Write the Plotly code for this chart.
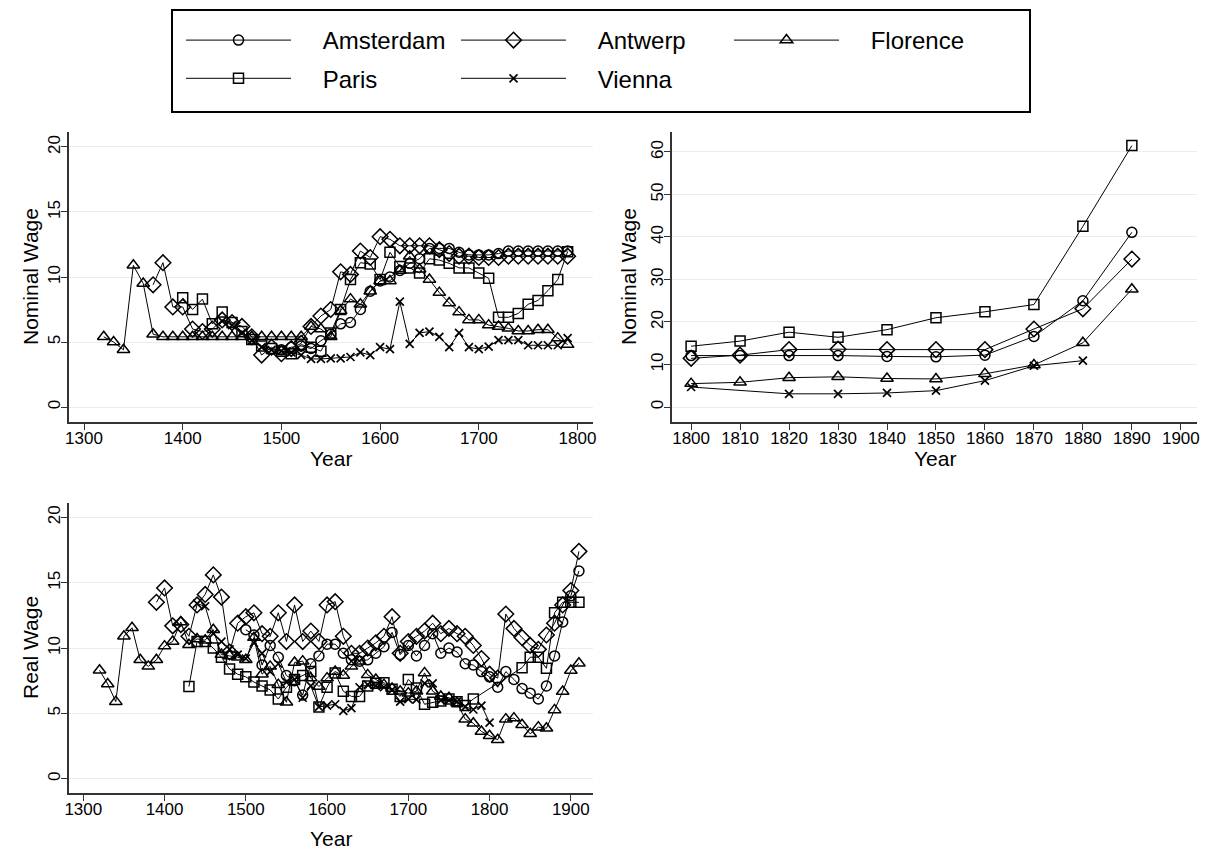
import plotly.graph_objects as go

# ---------------- data ----------------
cities = ["Amsterdam", "Antwerp", "Florence", "Paris", "Vienna"]

# Nominal wage, 1300-1800 panel
nom_early_years = {
    "Amsterdam": list(range(1500, 1800, 10)),
    "Antwerp": list(range(1370, 1800, 10)),
    "Florence": list(range(1320, 1800, 10)),
    "Paris": list(range(1400, 1800, 10)),
    "Vienna": list(range(1440, 1800, 10)),
}
nom_early_amsterdam = [4.4, 4.6, 4.7, 4.5, 5.1, 5.6, 6.4, 6.5, 7.5, 8.9, 9.7, 10.0, 10.5, 11.05, 11.4,
                       12.2, 12.2, 12.2, 11.9, 11.7, 11.7, 11.7, 11.8, 12.0, 12.0, 12.0, 12.0, 12.0, 12.0, 12.0]
nom_early_antwerp = [9.4, 11.1, 7.7, 7.7, 6.0, 5.8, 6.0, 6.7, 6.5, 6.2, 5.4, 4.0, 4.6, 4.1, 4.5, 4.9, 6.2, 7.0,
                     7.5, 10.4, 10.2, 12.0, 11.5, 13.1, 12.9, 12.4, 12.4, 12.4, 12.4, 12.1, 11.8, 11.6, 11.6,
                     11.5, 11.5, 11.5, 11.6, 11.6, 11.6, 11.6, 11.6, 11.6, 11.6]
nom_early_florence = [5.4, 5.0, 4.4, 10.9, 9.5, 5.6, 5.4, 5.4, 5.4, 5.4, 5.4, 5.4, 5.4, 5.4, 5.4, 5.4, 5.4, 5.4,
                      5.4, 5.4, 5.4, 6.2, 6.0, 5.4, 7.4, 8.3, 7.9, 8.9, 9.7, 9.7, 10.5, 11.6, 10.6, 9.8, 8.8,
                      8.0, 7.3, 6.7, 6.7, 6.3, 6.2, 6.05, 5.85, 5.85, 5.95, 5.95, 5.3, 4.8]
nom_early_paris = [8.4, 7.5, 8.3, 6.4, 7.3, 6.5, 5.8, 5.2, 4.7, 4.5, 4.3, 4.1, 4.8, 4.6, 4.3, 5.7, 7.5, 9.8, 11.1,
                   11.0, 9.8, 11.9, 10.8, 10.7, 10.3, 11.4, 11.3, 11.05, 10.7, 10.7, 10.3, 9.9, 6.9, 6.9, 7.2,
                   7.9, 8.2, 8.95, 9.8, 11.95]
nom_early_vienna = [6.6, 6.3, 5.7, 5.1, 4.6, 4.4, 4.3, 4.2, 4.0, 3.7, 3.7, 3.75, 3.75, 3.85, 4.2, 4.0, 4.6, 4.45,
                    8.1, 4.85, 5.7, 5.8, 5.4, 4.6, 5.7, 4.6, 4.45, 4.65, 5.15, 5.15, 5.15, 4.75, 4.75, 4.75,
                    4.75, 5.3]

# Nominal wage, 1800-1900 panel
nom_late_years = {
    "Amsterdam": list(range(1800, 1900, 10)),
    "Antwerp": list(range(1800, 1900, 10)),
    "Florence": list(range(1800, 1900, 10)),
    "Paris": list(range(1800, 1900, 10)),
    "Vienna": [1800, 1820, 1830, 1840, 1850, 1860, 1870, 1880],
}
nom_late_amsterdam = [12.1, 12.1, 12.1, 12.1, 11.9, 11.8, 12.2, 16.6, 25.0, 41.1]
nom_late_antwerp = [11.45, 12.2, 13.5, 13.6, 13.5, 13.5, 13.5, 18.35, 23.1, 34.8]
nom_late_florence = [5.5, 5.8, 6.9, 7.1, 6.7, 6.6, 7.8, 9.9, 15.1, 27.7]
nom_late_paris = [14.3, 15.5, 17.6, 16.4, 18.2, 21.0, 22.4, 24.1, 42.5, 61.5]
nom_late_vienna = [4.7, 3.1, 3.1, 3.3, 3.85, 6.2, 9.7, 10.9]

# Real wage, 1300-1910 panel
real_years = {
    "Amsterdam": list(range(1500, 1920, 10)),
    "Antwerp": list(range(1390, 1920, 10)),
    "Florence": list(range(1320, 1920, 10)),
    "Paris": list(range(1430, 1790, 10)) + [1840, 1850, 1860, 1870, 1880, 1890, 1900, 1910],
    "Vienna": list(range(1440, 1810, 10)),
}
real_amsterdam = [11.4, 11.0, 8.7, 10.2, 9.3, 7.9, 7.5, 6.4, 8.8, 9.4, 10.3, 10.3, 9.6, 9.1, 9.0, 9.1, 9.6, 10.1,
                  11.2, 9.5, 10.2, 9.4, 10.2, 11.1, 9.6, 10.0, 9.7, 8.8, 8.7, 8.2, 7.8, 7.0, 8.2, 7.6, 6.9,
                  6.55, 6.1, 7.1, 9.4, 12.0, 14.0, 15.9]
real_antwerp = [13.5, 14.6, 11.7, 11.8, 10.9, 13.3, 14.1, 15.6, 13.9, 9.7, 11.9, 12.4, 12.7, 11.1, 10.9, 12.7,
                10.5, 13.3, 10.5, 11.3, 10.5, 13.3, 13.55, 10.9, 9.6, 9.6, 10.0, 10.4, 10.9, 12.4, 9.6, 10.5,
                10.9, 11.3, 11.9, 11.1, 11.5, 11.1, 10.9, 10.2, 9.2, 8.0, 7.7, 12.6, 11.5, 10.8, 10.2, 9.9,
                11.0, 11.9, 13.3, 14.4, 17.4]
real_florence = [8.3, 7.25, 5.9, 10.9, 11.55, 9.1, 8.6, 9.1, 10.15, 10.5, 12.0, 10.25, 10.7, 10.6, 11.4, 9.5,
                 9.4, 9.3, 9.1, 10.8, 8.0, 8.6, 7.2, 5.85, 8.9, 9.0, 7.7, 7.05, 7.7, 8.2, 7.9, 8.6, 9.0, 7.95,
                 7.6, 7.2, 6.9, 6.7, 6.55, 6.7, 8.1, 6.7, 6.3, 6.2, 5.8, 4.56, 4.25, 3.62, 3.29, 2.98, 4.56,
                 4.64, 4.13, 3.44, 3.95, 3.87, 5.27, 6.68, 8.28, 8.84]
real_paris = [7.05, 10.5, 10.5, 10.0, 9.3, 8.4, 8.0, 7.8, 7.4, 7.1, 6.8, 6.1, 7.0, 7.6, 7.9, 8.2, 5.5, 7.0, 8.1,
              6.7, 6.3, 6.3, 7.1, 7.3, 7.35, 6.85, 6.3, 7.6, 6.95, 5.7, 5.85, 5.95, 6.1, 5.9, 5.6, 6.1,
              8.5, 9.3, 9.3, 8.45, 12.7, 13.5, 13.5, 13.5]
real_vienna = [13.4, 13.2, 11.1, 10.5, 9.9, 9.5, 9.2, 10.4, 9.6, 8.2, 8.8, 7.4, 7.6, 6.2, 7.1, 5.5, 5.6, 5.7,
               5.2, 5.4, 7.0, 7.2, 7.1, 7.0, 6.8, 5.9, 6.1, 6.05, 7.3, 7.3, 6.0, 6.0, 5.9, 5.5, 5.3, 5.6, 4.3]

# tick labels
x_ticks_early = [1300, 1400, 1500, 1600, 1700, 1800]
x_ticks_late = list(range(1800, 1910, 10))
x_ticks_real = [1300, 1400, 1500, 1600, 1700, 1800, 1900]
y_ticks_small = [0, 5, 10, 15, 20]
y_ticks_late = [0, 10, 20, 30, 40, 50, 60]

# ---------------- style ----------------
FONT = "Liberation Sans, Arial, Helvetica, sans-serif"
FW, FH = 1206, 850
symbols = {"Amsterdam": "circle-open", "Antwerp": "diamond-open", "Florence": "triangle-up-open",
           "Paris": "square-open", "Vienna": "x-thin-open"}
sizes = {"Amsterdam": 10, "Antwerp": 12, "Florence": 11, "Paris": 10, "Vienna": 8}
# legend column for each city (3 columns, like the reference key)
legend_of = {"Amsterdam": "legend", "Paris": "legend", "Antwerp": "legend2", "Vienna": "legend2",
             "Florence": "legend3"}

panels = [
    ("x", "y", nom_early_years, [nom_early_amsterdam, nom_early_antwerp, nom_early_florence,
                                 nom_early_paris, nom_early_vienna], True),
    ("x2", "y2", nom_late_years, [nom_late_amsterdam, nom_late_antwerp, nom_late_florence,
                                  nom_late_paris, nom_late_vienna], False),
    ("x3", "y3", real_years, [real_amsterdam, real_antwerp, real_florence, real_paris, real_vienna], False),
]

NB = "\u00a0" * 4
fig = go.Figure()
for xa, ya, yrs, vals, show in panels:
    for city, v in zip(cities, vals):
        fig.add_trace(go.Scatter(
            x=yrs[city], y=v, xaxis=xa, yaxis=ya, name=NB + city, showlegend=show,
            legend=legend_of[city], legendgroup=city,
            mode="lines+markers",
            line=dict(color="black", width=1),
            marker=dict(symbol=symbols[city], size=sizes[city], color="black",
                        line=dict(color="black", width=1.7 if city == "Vienna" else 1.5)),
        ))


def px_x(a, b):
    return [a / FW, b / FW]


def px_y(top, bottom):
    return [1 - bottom / FH, 1 - top / FH]


axis_common = dict(showline=True, linecolor="#333333", linewidth=1.5, ticks="outside", ticklen=6,
                   tickcolor="#333333", tickwidth=1.3, zeroline=False, ticklabelstandoff=-6,
                   tickfont=dict(family=FONT, size=17, color="black"))
xcommon = dict(axis_common, showgrid=False)
ycommon = dict(axis_common, showgrid=True, gridcolor="#e6eef0", gridwidth=1.2, tickangle=-90)


def legend_at(line_start_px):
    return dict(orientation="v", xref="container", yref="container",
                x=(line_start_px - 6) / FW, y=1 - 18 / FH, xanchor="left", yanchor="top",
                borderwidth=0, bgcolor="rgba(0,0,0,0)", tracegroupgap=4,
                font=dict(family=FONT, size=24, color="black"), itemwidth=105)


fig.update_layout(
    width=FW, height=FH, margin=dict(l=0, r=0, t=0, b=0, autoexpand=False),
    paper_bgcolor="white", plot_bgcolor="white",
    font=dict(family=FONT, color="black"),
    xaxis=dict(xcommon, domain=px_x(69, 593), range=[1284.8, 1815.7], tickvals=x_ticks_early, anchor="y"),
    yaxis=dict(ycommon, domain=px_y(132, 422), range=[-1.15, 21.15], tickvals=y_ticks_small, anchor="x"),
    xaxis2=dict(xcommon, domain=px_x(672, 1197), range=[1796.1, 1903.3], tickvals=x_ticks_late, anchor="y2"),
    yaxis2=dict(ycommon, domain=px_y(132, 422), range=[-3.53, 64.7], tickvals=y_ticks_late, anchor="x2"),
    xaxis3=dict(xcommon, domain=px_x(69, 593), range=[1282.4, 1927.3], tickvals=x_ticks_real, anchor="y3"),
    yaxis3=dict(ycommon, domain=px_y(503, 793), range=[-1.09, 21.1], tickvals=y_ticks_small, anchor="x3"),
    legend=legend_at(187),
    legend2=legend_at(462),
    legend3=legend_at(735),
)

# frame around the key
fig.add_shape(type="rect", xref="paper", yref="paper",
              x0=172 / FW, x1=1030 / FW, y0=1 - 112 / FH, y1=1 - 10 / FH,
              line=dict(color="black", width=2), fillcolor="rgba(0,0,0,0)", layer="below")

titles = [
    ("Year", 331, 458, 0), ("Year", 935, 458, 0), ("Year", 331, 838, 0),
    ("Nominal Wage", 30, 277, -90), ("Nominal Wage", 628, 277, -90), ("Real Wage", 30, 648, -90),
]
for text, xp, yp, ang in titles:
    fig.add_annotation(text=text, x=xp / FW, y=1 - yp / FH, xref="paper", yref="paper",
                       xanchor="center", yanchor="middle", showarrow=False, textangle=ang,
                       font=dict(family=FONT, size=21, color="black"))

fig.write_html("out.html", post_script="document.body.style.margin='0px';",
               config={"displayModeBar": False})
